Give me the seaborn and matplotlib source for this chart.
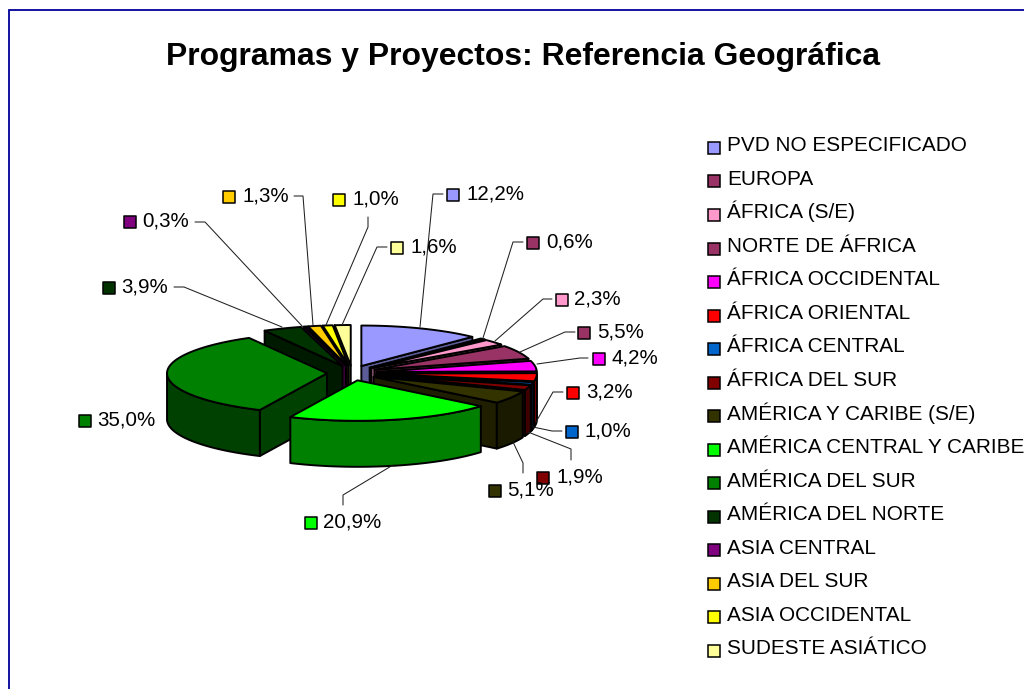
import numpy as np
import pandas as pd
import matplotlib
matplotlib.use("Agg")
import matplotlib.pyplot as plt
from matplotlib.lines import Line2D
from matplotlib.legend_handler import HandlerLine2D
from matplotlib.colors import to_rgb
import seaborn as sns

TITLE = "Programas y Proyectos: Referencia Geográfica"
regions = ["PVD NO ESPECIFICADO", "EUROPA", "ÁFRICA (S/E)", "NORTE DE ÁFRICA",
           "ÁFRICA OCCIDENTAL", "ÁFRICA ORIENTAL", "ÁFRICA CENTRAL", "ÁFRICA DEL SUR",
           "AMÉRICA Y CARIBE (S/E)", "AMÉRICA CENTRAL Y CARIBE", "AMÉRICA DEL SUR",
           "AMÉRICA DEL NORTE", "ASIA CENTRAL", "ASIA DEL SUR", "ASIA OCCIDENTAL",
           "SUDESTE ASIÁTICO"]
shares = [12.2, 0.6, 2.3, 5.5, 4.2, 3.2, 1.0, 1.9, 5.1, 20.9, 35.0, 3.9, 0.3, 1.3, 1.0, 1.6]
colors = ["#9999FF", "#993366", "#FF99CC", "#993366", "#FF00FF", "#FF0000", "#0066CC", "#800000",
          "#333300", "#00FF00", "#008000", "#003300", "#800080", "#FFCC00", "#FFFF00", "#FFFF99"]

# layout of the pie, in pixels
CX, CY, RX, RY, DEPTH, EX, EY = 352, 373, 160, 40.5, 46, 25, 7.5

# layout of the data labels: swatch centre, text start, leader polyline
swatch_x = [453, 533, 562, 584, 599, 573, 572, 543, 495, 311, 85, 109, 130, 229, 339, 397]
swatch_y = [195, 243, 300, 333, 359, 393, 432, 478, 491, 523, 421, 288, 222, 197, 200, 248]
text_x = [467, 546, 574, 597, 612, 586, 585, 556, 507, 323, 97, 121, 142, 242, 353, 410]
leaders = [[(443, 194), (433, 194), (420, 327)], [(523, 242), (513, 242), (483, 338)],
           [(552, 299), (543, 299), (495, 341)], [(575, 332), (565, 332), (520, 352)],
           [(588, 358), (580, 358), (537, 364)], [(563, 392), (553, 392), (536, 422)],
           [(562, 431), (552, 431), (533, 427)], [(571, 460), (571, 449), (528, 432)],
           [(523, 473), (523, 463), (513, 442)], [(343, 505), (343, 495), (393, 465)],
           None, [(174, 287), (184, 287), (282, 327)], [(195, 222), (205, 222), (303, 327)],
           [(294, 196), (303, 196), (313, 325)], [(368, 217), (368, 227), (326, 325)],
           [(387, 247), (377, 247), (342, 325)]]

sns.set_theme(style="white", font="Liberation Sans")
plt.rcParams["font.family"] = ["Liberation Sans", "DejaVu Sans"]

fig = plt.figure(figsize=(10.24, 6.89), dpi=100, facecolor="white")
ax = fig.add_axes([0, 0, 1, 1])
ax.set_xlim(0, 1024)
ax.set_ylim(689, 0)
ax.axis("off")

ax.plot([9, 9, 1024], [689, 10, 10], color="#000099", lw=1.3, solid_joinstyle="miter", clip_on=False)


def shade(c, f):
    return tuple(v * f for v in to_rgb(c))


class LoweredSwatch(HandlerLine2D):
    """Legend swatch sitting a little below the middle of its text."""

    def create_artists(self, legend, orig_handle, xdescent, ydescent, width, height, fontsize, trans):
        artists = super().create_artists(legend, orig_handle, xdescent, ydescent,
                                         width, height, fontsize, trans)
        for artist in artists:
            artist.set_ydata(np.asarray(artist.get_ydata()) - 0.28 * fontsize)
        return artists


edges = np.cumsum([0] + shares) / sum(shares) * 2 * np.pi
mids = (edges[:-1] + edges[1:]) / 2
for i in sorted(range(len(shares)), key=lambda k: -np.cos(mids[k])):
    a0, a1 = edges[i], edges[i + 1]
    ox = CX + EX * np.sin(mids[i])
    oy = CY - EY * np.cos(mids[i])
    t = np.linspace(a0, a1, max(3, int((a1 - a0) * 40)))
    px = ox + RX * np.sin(t)
    py = oy - RY * np.cos(t)
    kw = dict(edgecolor="black", linewidth=1.4, joinstyle="round")
    side = 0.5 if colors[i] in ("#008000", "#003300") else 0.6
    # radial side faces that look toward the viewer
    if np.sin(a0) < -1e-6:
        ax.fill([ox, px[0], px[0], ox], [oy, py[0], py[0] + DEPTH, oy + DEPTH],
                facecolor=shade(colors[i], side), **kw)
    if np.sin(a1) > 1e-6:
        ax.fill([ox, px[-1], px[-1], ox], [oy, py[-1], py[-1] + DEPTH, oy + DEPTH],
                facecolor=shade(colors[i], side), **kw)
    # curved outer face, only the part that looks toward the viewer
    front = (t >= np.pi / 2) & (t <= 3 * np.pi / 2)
    if front.sum() >= 2:
        fx, fy = px[front], py[front]
        ax.fill(np.r_[fx, fx[::-1]], np.r_[fy, fy[::-1] + DEPTH],
                facecolor=shade(colors[i], 0.5), **kw)
    # top face
    ax.fill(np.r_[ox, px], np.r_[oy, py], facecolor=colors[i], **kw)

# data labels
for path in leaders:
    if path:
        xs, ys = zip(*path)
        ax.plot(xs, ys, color="#202020", lw=0.75, zorder=4)

df = pd.DataFrame({"region": regions, "x": swatch_x, "y": swatch_y})
palette = dict(zip(regions, colors))
sns.scatterplot(data=df, x="x", y="y", hue="region", palette=palette, marker="s", s=78,
                edgecolor="black", linewidth=1.1, legend=False, ax=ax, zorder=5)
ax.set_xlabel("")
ax.set_ylabel("")
for v, tx, sy in zip(shares, text_x, swatch_y):
    ax.text(tx, sy - 1, f"{v:.1f}".replace(".", ",") + "%", fontsize=14.8, color="black",
            ha="left", va="center", zorder=6)

ax.text(523.5, 65, TITLE, fontsize=22.95, fontweight="bold", color="black", ha="center", va="baseline")

handles = [Line2D([], [], linestyle="none", marker="s", markersize=8.3, markerfacecolor=c,
                  markeredgecolor="black", markeredgewidth=1.1) for c in colors]
ax.legend(handles, regions, loc="upper left", bbox_to_anchor=(704 / 1024, 1 - 133 / 689),
          frameon=False, fontsize=14.95, labelspacing=0.525, handlelength=1.0, handleheight=1.3,
          handletextpad=0.12, borderpad=0, borderaxespad=0, labelcolor="black",
          handler_map={Line2D: LoweredSwatch()})

fig.savefig("out.png", dpi=100)
